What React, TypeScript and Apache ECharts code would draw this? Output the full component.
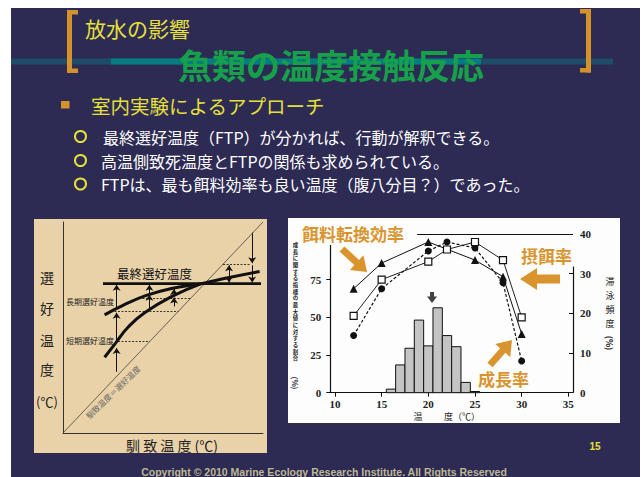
import React, { useEffect, useRef } from 'react';
import * as echarts from 'echarts';

// ---------- Right chart data ----------
const xTicks = [10, 15, 20, 25, 30, 35];
const leftTicks = [0, 25, 50, 75];
const rightTicks = [0, 10, 20, 30, 40];
const effTemps = [12, 15, 20, 25, 28, 30];
const feedEfficiency = [69, 86, 100, 88, 77, 39]; // 餌料転換効率 (triangles)
const rateTemps = [12, 15, 20, 22, 25, 28, 30];
const feedingRate = [51, 75, 87, 95, 100, 88, 50]; // 摂餌率 (squares)
const growthRate = [38, 69, 94, 100, 96, 73, 21]; // 成長率 (circles)
const histTemps = [16, 17, 18, 19, 20, 21, 22, 23, 24, 25];
const histFreq = [0.9, 7, 11.2, 18.3, 11.8, 21.4, 14.4, 11.6, 2.6, 0.3]; // 滞泳頻度 %
const meanTemp = 20.4;
const leftAxisLabel = '成長に関する指標の最大値に対する割合';
const rightAxisLabel = '滞泳頻度';

// ---------- Left concept diagram (0-100 units) ----------
const diagonal = [[0, 0], [100, 100]];
const finalPref = [[20, 70.8], [99, 70.8]];
const longTerm = [[20.8, 56], [30, 60.5], [41.7, 65.2], [54.2, 68.5], [69.2, 70.8], [82.5, 73.6], [98.3, 76.5]];
const shortTerm = [[20.8, 35.9], [26.2, 42.5], [32.5, 50.1], [40.8, 57], [54.2, 64.6], [69.2, 70.8]];
const dashedRefs = [
  [[24, 57.8], [57.8, 57.8]],
  [[38, 64], [64, 64]],
  [[27.5, 43.5], [43.5, 43.5]],
  [[80, 80], [93.5, 80]],
];
const arrowRefs = [
  [[26.8, 29], [26.8, 40.3]],
  [[26.8, 44], [26.8, 57]],
  [[26.8, 59.5], [26.8, 70.3]],
  [[43.2, 58.5], [43.2, 65.5]],
  [[43.2, 66.3], [43.2, 70.3]],
  [[55.5, 60], [55.5, 64.2]],
  [[55.5, 65], [55.5, 68.2]],
  [[94.6, 95], [94.6, 80.5]],
  [[94.6, 79.5], [94.6, 71.3]],
];
const doubleArrowRefs = [[[83, 71.3], [83, 79.5]]];

function arrowPoly(x1: number, y1: number, x2: number, y2: number, shaft: number, head: number, headLen: number) {
  const dx = x2 - x1, dy = y2 - y1, L = Math.hypot(dx, dy);
  const ux = dx / L, uy = dy / L, nx = -uy, ny = ux;
  const bx = x2 - ux * headLen, by = y2 - uy * headLen;
  return [
    [x1 + nx * shaft / 2, y1 + ny * shaft / 2],
    [bx + nx * shaft / 2, by + ny * shaft / 2],
    [bx + nx * head / 2, by + ny * head / 2],
    [x2, y2],
    [bx - nx * head / 2, by - ny * head / 2],
    [bx - nx * shaft / 2, by - ny * shaft / 2],
    [x1 - nx * shaft / 2, y1 - ny * shaft / 2],
  ];
}

const JP = '"Noto Sans CJK JP", "Noto Sans", sans-serif';
const ORANGE = '#d9942e';
const YELLOW = '#e6e03a';

function txt(text: string, x: number, y: number, size: number, fill: string, opts: any = {}) {
  return {
    type: 'text', x, y, z: 20, rotation: opts.rotation || 0,
    style: {
      text, fill, fontSize: size, fontFamily: opts.family || JP, fontWeight: opts.weight || 'normal',
      textAlign: opts.align || 'left', textVerticalAlign: 'middle',
    },
  };
}

function verticalText(text: string, x: number, y0: number, step: number, size: number, fill: string, weight = 'normal') {
  return text.split('').map((ch, i) => txt(ch, x, y0 + i * step, size, fill, { align: 'center', weight }));
}

export default function App() {
  const ref = useRef<HTMLDivElement>(null);
  useEffect(() => {
    const chart = echarts.init(ref.current!, undefined, { renderer: 'svg' });
    const axisNum = { fontSize: 11, color: '#222', fontWeight: 'bold', fontFamily: '"Liberation Serif", serif' };
    const graphic: any[] = [
      { type: 'rect', z: -10, shape: { x: 11, y: 8, width: 629, height: 469 }, style: { fill: '#2d2a54' } },
      { type: 'rect', z: -9, shape: { x: 11, y: 58.5, width: 602, height: 6 }, style: { fill: '#1f4c69' } },
      { type: 'rect', z: -9, shape: { x: 111, y: 58.5, width: 370, height: 6 }, style: { fill: '#077c80' } },
      // brackets
      { type: 'rect', z: -8, shape: { x: 67, y: 10, width: 5, height: 63 }, style: { fill: '#d4922a' } },
      { type: 'rect', z: -8, shape: { x: 67, y: 10, width: 11, height: 4.5 }, style: { fill: '#d4922a' } },
      { type: 'rect', z: -8, shape: { x: 67, y: 68.5, width: 11, height: 4.5 }, style: { fill: '#d4922a' } },
      { type: 'rect', z: -8, shape: { x: 586, y: 9, width: 5, height: 63.5 }, style: { fill: '#d4922a' } },
      { type: 'rect', z: -8, shape: { x: 580, y: 9, width: 11, height: 4.5 }, style: { fill: '#d4922a' } },
      { type: 'rect', z: -8, shape: { x: 580, y: 68, width: 11, height: 4.5 }, style: { fill: '#d4922a' } },
      // panels
      { type: 'rect', z: -8, shape: { x: 34, y: 219, width: 233, height: 234 }, style: { fill: '#ead2a8' } },
      { type: 'rect', z: -8, shape: { x: 288, y: 218, width: 332, height: 205 }, style: { fill: '#fdfdfd' } },
      // headings
      txt('放水の影響', 85, 28, 21, YELLOW),
      txt('魚類の温度接触反応', 331, 64, 34, '#17a04b', { align: 'center', weight: 'bold' }),
      { type: 'rect', z: 20, shape: { x: 61, y: 101, width: 8.5, height: 7.5 }, style: { fill: '#d4922a' } },
      txt('室内実験によるアプローチ', 91, 105, 19.5, YELLOW),
      { type: 'circle', z: 20, shape: { cx: 80.5, cy: 136.5, r: 5.5 }, style: { fill: 'none', stroke: YELLOW, lineWidth: 2 } },
      { type: 'circle', z: 20, shape: { cx: 80.5, cy: 160.5, r: 5.5 }, style: { fill: 'none', stroke: YELLOW, lineWidth: 2 } },
      { type: 'circle', z: 20, shape: { cx: 80.5, cy: 184, r: 5.5 }, style: { fill: 'none', stroke: YELLOW, lineWidth: 2 } },
      txt('最終選好温度（FTP）が分かれば、行動が解釈できる。', 103, 137, 16, '#ffffff'),
      txt('高温側致死温度とFTPの関係も求められている。', 101, 160.5, 16, '#ffffff'),
      txt('FTPは、最も餌料効率も良い温度（腹八分目？）であった。', 101, 184, 16, '#ffffff'),
      // left diagram texts
      txt('選', 47, 277, 14, '#222', { align: 'center' }),
      txt('好', 47, 308, 14, '#222', { align: 'center' }),
      txt('温', 47, 340, 14, '#222', { align: 'center' }),
      txt('度', 47, 369, 14, '#222', { align: 'center' }),
      txt('(℃)', 47, 401, 13, '#222', { align: 'center' }),
      txt('最終選好温度', 117, 273, 12.5, '#111'),
      txt('長期選好温度', 66, 301, 8, '#222'),
      txt('短期選好温度', 66, 340, 8, '#222'),
      txt('馴致温度＝選好温度', 113, 392, 8, '#666', { align: 'center', rotation: 0.77 }),
      txt('馴 致 温 度 (℃)', 172, 445, 14, '#222', { align: 'center' }),
      // right chart labels
      txt('餌料転換効率', 302, 233, 17, ORANGE, { weight: 'bold' }),
      txt('摂餌率', 521, 255, 17, ORANGE, { weight: 'bold' }),
      txt('成長率', 478, 378, 17, ORANGE, { weight: 'bold' }),
      { type: 'polygon', z: 20, shape: { points: arrowPoly(342, 249, 367, 272, 7, 20, 14) }, style: { fill: ORANGE } },
      { type: 'polygon', z: 20, shape: { points: arrowPoly(560, 279, 520, 279, 9, 22, 17) }, style: { fill: ORANGE } },
      { type: 'polygon', z: 20, shape: { points: arrowPoly(490, 365, 512, 340, 7, 20, 14) }, style: { fill: ORANGE } },
      ...verticalText(leftAxisLabel, 295.5, 245, 6.67, 5.4, '#222', 'bold'),
      txt('(%)', 295.5, 383, 7.5, '#222', { align: 'center', rotation: -Math.PI / 2, weight: 'bold' }),
      ...verticalText(rightAxisLabel, 610, 281.5, 13.9, 9, '#222'),
      txt('(%)', 610, 343, 8.5, '#222', { align: 'center', rotation: -Math.PI / 2, weight: 'bold' }),
      txt('温', 418, 416.5, 9, '#222', { align: 'center' }),
      txt('度（℃）', 444, 416.5, 9, '#222'),
      // footer
      txt('15', 595, 446, 10, YELLOW, { align: 'center', family: '"Liberation Sans", Arial, sans-serif', weight: 'bold' }),
      txt('Copyright © 2010 Marine Ecology Research Institute. All Rights Reserved', 324, 472, 10.5, '#bdb993', { align: 'center', family: '"Liberation Sans", Arial, sans-serif', weight: 'bold' }),
    ];

    const diagLine = (data: number[][], width: number, color = '#111', smooth = false, type = 'solid') => ({
      type: 'line', xAxisIndex: 1, yAxisIndex: 2, data, symbol: 'none', smooth, silent: true,
      lineStyle: { color, width, type },
    });

    const option: any = {
      animation: false,
      backgroundColor: '#ffffff',
      graphic,
      grid: [
        { left: 330.3, top: 234, width: 242.7, height: 158.7 },
        { left: 63, top: 222, width: 200, height: 211 },
      ],
      xAxis: [
        {
          gridIndex: 0, type: 'value', min: 9.5, max: 35.5,
          axisLine: { lineStyle: { color: '#111', width: 1.2 } },
          axisTick: { customValues: xTicks, length: 4, lineStyle: { color: '#111' } },
          axisLabel: { customValues: xTicks, margin: 6, ...axisNum },
          splitLine: { show: false },
        },
        {
          gridIndex: 1, type: 'value', min: 0, max: 100,
          axisLine: { lineStyle: { color: '#333', width: 1 } },
          axisTick: { show: false }, axisLabel: { show: false }, splitLine: { show: false },
        },
      ],
      yAxis: [
        {
          gridIndex: 0, type: 'value', min: 0, max: 105.3, position: 'left',
          axisLine: { show: false },
          axisTick: { show: true, customValues: leftTicks, length: 4, lineStyle: { color: '#111' } },
          axisLabel: { customValues: leftTicks, margin: 9, ...axisNum },
          splitLine: { show: false },
        },
        {
          gridIndex: 0, type: 'value', min: 0, max: 40, position: 'right',
          axisLine: { show: false },
          axisTick: { show: true, inside: true, customValues: rightTicks, length: 4, lineStyle: { color: '#111' } },
          axisLabel: { customValues: rightTicks, margin: 7, ...axisNum },
          splitLine: { show: false },
        },
        {
          gridIndex: 1, type: 'value', min: 0, max: 100,
          axisLine: { show: true, lineStyle: { color: '#333', width: 1 } },
          axisTick: { show: false }, axisLabel: { show: false }, splitLine: { show: false },
        },
      ],
      series: [
        {
          type: 'custom', xAxisIndex: 0, yAxisIndex: 1, silent: true,
          data: histTemps.map((t, i) => [t, histFreq[i]]),
          renderItem: (params: any, api: any) => {
            const x = api.value(0), h = api.value(1);
            const p1 = api.coord([x - 0.5, h]);
            const p2 = api.coord([x + 0.5, 0]);
            return {
              type: 'rect',
              shape: { x: p1[0], y: p1[1], width: p2[0] - p1[0], height: p2[1] - p1[1] },
              style: { fill: '#c4c4c4', stroke: '#111', lineWidth: 1 },
            };
          },
        },
        {
          type: 'scatter', xAxisIndex: 0, yAxisIndex: 1, silent: true,
          data: [[meanTemp, 24]],
          symbol: 'path://M3,0 L7,0 L7,5 L10,5 L5,12 L0,5 L3,5 Z', symbolSize: [10, 11],
          itemStyle: { color: '#111' },
          markLine: {
            silent: true, symbol: 'none', label: { show: false },
            lineStyle: { color: '#111', width: 1.2, type: 'solid' },
            data: [
              [{ coord: [35.5, 0] }, { coord: [35.5, 31.8] }],
              [{ coord: [18.8, 40] }, { coord: [35.5, 40] }],
            ],
          },
        },
        {
          type: 'line', xAxisIndex: 0, yAxisIndex: 0, silent: true,
          data: rateTemps.map((t, i) => [t, growthRate[i]]),
          symbol: 'circle', symbolSize: 7,
          itemStyle: { color: '#111' },
          lineStyle: { color: '#111', width: 1.2, type: [3, 2] },
          markLine: {
            silent: true, symbol: 'none', label: { show: false },
            lineStyle: { color: '#111', width: 1.2, type: 'solid' },
            data: [[{ coord: [9.5, 0] }, { coord: [9.5, 98] }]],
          },
        },
        {
          type: 'line', xAxisIndex: 0, yAxisIndex: 0, silent: true,
          data: effTemps.map((t, i) => [t, feedEfficiency[i]]),
          symbol: 'triangle', symbolSize: 8,
          itemStyle: { color: '#111' },
          lineStyle: { color: '#111', width: 1 },
        },
        {
          type: 'line', xAxisIndex: 0, yAxisIndex: 0, silent: true,
          data: rateTemps.map((t, i) => [t, feedingRate[i]]),
          symbol: 'rect', symbolSize: 7,
          itemStyle: { color: '#fff', borderColor: '#111', borderWidth: 1.2 },
          lineStyle: { color: '#222', width: 1 },
        },
        // left diagram
        diagLine(diagonal, 0.8, '#444'),
        diagLine(finalPref, 2.6),
        diagLine(longTerm, 3, '#111', true),
        diagLine(shortTerm, 3, '#111', true),
        {
          type: 'lines', coordinateSystem: 'cartesian2d', xAxisIndex: 1, yAxisIndex: 2, silent: true,
          data: dashedRefs.map((c) => ({ coords: c })),
          lineStyle: { color: '#222', width: 0.9, type: [2, 1.5], opacity: 1 },
        },
        {
          type: 'lines', coordinateSystem: 'cartesian2d', xAxisIndex: 1, yAxisIndex: 2, silent: true,
          data: arrowRefs.map((c) => ({ coords: c })),
          symbol: ['none', 'arrow'], symbolSize: 6,
          lineStyle: { color: '#111', width: 1, opacity: 1 },
        },
        {
          type: 'lines', coordinateSystem: 'cartesian2d', xAxisIndex: 1, yAxisIndex: 2, silent: true,
          data: doubleArrowRefs.map((c) => ({ coords: c })),
          symbol: ['arrow', 'arrow'], symbolSize: 6,
          lineStyle: { color: '#111', width: 1, opacity: 1 },
        },
      ],
    };
    chart.setOption(option);
    return () => chart.dispose();
  }, []);
  return <div ref={ref} style={{ position: 'absolute', left: 0, top: 0, width: 644, height: 477 }} />;
}
